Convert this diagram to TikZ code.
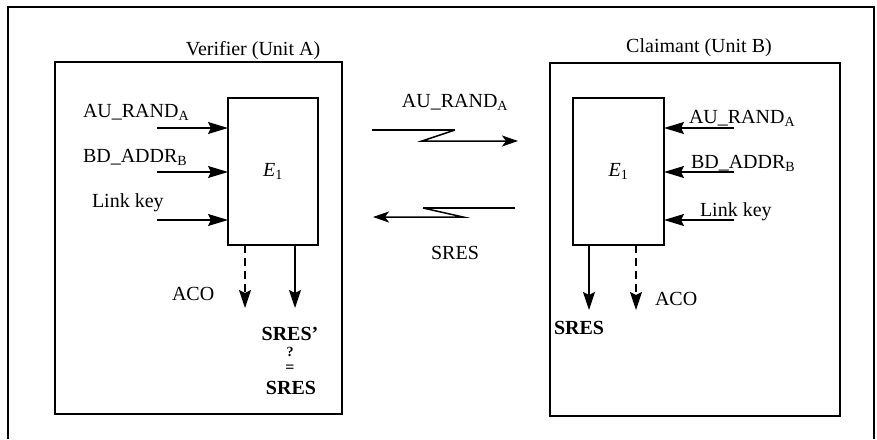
\documentclass[tikz,border=0pt]{standalone}
\usepackage{fontspec}
\setmainfont{Liberation Serif}
\usetikzlibrary{arrows.meta}
\begin{document}
\begin{tikzpicture}[x=1pt,y=-1pt,
  every node/.style={font=\fontsize{20}{24}\selectfont, inner sep=0pt, outer sep=0pt},
  boxnode/.style={draw, line width=1.6pt, anchor=north west},
  inarrow/.style={line width=1.4pt, -{Stealth[length=20pt,width=12pt,inset=3pt]}},
  outarrow/.style={line width=1.4pt, -{Stealth[length=18pt,width=12pt,inset=3pt]}},
  dasharrow/.style={outarrow, dash pattern=on 8pt off 5pt},
  linkarrow/.style={line width=1.5pt, -{Stealth[length=16pt,width=11pt,inset=4pt]}},
  lbl/.style={anchor=base west},
  lblc/.style={anchor=base}
]
\useasboundingbox (0,0) rectangle (877,439);
% outer frame (open at the bottom)
\draw[line width=1.4pt] (8,439) -- (8,7) -- (874,7) -- (874,439);

% Unit A
\node[boxnode, minimum width=287pt, minimum height=352pt] (unitA) at (55,62) {};
\node[lblc] (titleA) at (253,55) {Verifier (Unit A)};
\node[boxnode, minimum width=90pt, minimum height=147pt] (eA) at (228,98) {};
\node (eAlbl) at (eA.center) {\textit{E}\textsubscript{1}};

\coordinate (ia1) at (157,128);
\coordinate (ia2) at (157,172);
\coordinate (ia3) at (157,220);
\draw[inarrow] (ia1) -- (ia1 -| eA.west);
\draw[inarrow] (ia2) -- (ia2 -| eA.west);
\draw[inarrow] (ia3) -- (ia3 -| eA.west);
\node[lbl] (la1) at (83,117) {AU\_RAND\textsubscript{A}};
\node[lbl] (la2) at (83,162) {BD\_ADDR\textsubscript{B}};
\node[lbl] (la3) at (92,207) {Link key};

\coordinate (oa1) at (245,308);
\coordinate (oa2) at (295,308);
\draw[dasharrow] (oa1 |- eA.south) -- (oa1);
\draw[outarrow] (oa2 |- eA.south) -- (oa2);
\node[lbl] (acoA) at (172,300) {ACO};
\node[lblc] (sresp) at (290,340) {\bfseries SRES'};
\node[lblc, font=\fontsize{14}{16}\selectfont\bfseries] (qm) at (290,356) {?};
\node[lblc, font=\fontsize{16}{18}\selectfont\bfseries] (eqs) at (290,372) {=};
\node[lblc] (sresA) at (291,394) {\bfseries SRES};

% Unit B
\node[boxnode, minimum width=290pt, minimum height=353pt] (unitB) at (550,63) {};
\node[lblc] (titleB) at (699,52) {Claimant (Unit B)};
\node[boxnode, minimum width=91pt, minimum height=147pt] (eB) at (573,98) {};
\node (eBlbl) at (eB.center) {\textit{E}\textsubscript{1}};

\coordinate (ib1) at (734,128);
\coordinate (ib2) at (734,172);
\coordinate (ib3) at (734,220);
\draw[inarrow] (ib1) -- (ib1 -| eB.east);
\draw[inarrow] (ib2) -- (ib2 -| eB.east);
\draw[inarrow] (ib3) -- (ib3 -| eB.east);
\node[lbl] (lb1) at (689,123) {AU\_RAND\textsubscript{A}};
\node[lbl] (lb2) at (691,168) {BD\_ADDR\textsubscript{B}};
\node[lbl] (lb3) at (700,216) {Link key};

\coordinate (ob1) at (589,310);
\coordinate (ob2) at (636,310);
\draw[outarrow] (ob1 |- eB.south) -- (ob1);
\draw[dasharrow] (ob2 |- eB.south) -- (ob2);
\node[lbl] (sresB) at (554,334) {\bfseries SRES};
\node[lbl] (acoB) at (655,305) {ACO};

% link between units
\coordinate (m1) at (372,130);
\coordinate (m2) at (455,130);
\coordinate (m3) at (422,141);
\coordinate (m4) at (518,141);
\draw[line width=2.8pt] (m1) -- (m2);
\draw[linkarrow] (m2) -- (m3) -- (m4);
\node[lblc] (randM) at (455,107) {AU\_RAND\textsubscript{A}};

\coordinate (n1) at (515,208);
\coordinate (n2) at (423,208);
\coordinate (n3) at (463,217);
\coordinate (n4) at (373,217);
\draw[line width=2.8pt] (n1) -- (n2);
\draw[linkarrow] (n2) -- (n3) -- (n4);
\node[lblc] (sresM) at (455,259) {SRES};
\end{tikzpicture}
\end{document}
